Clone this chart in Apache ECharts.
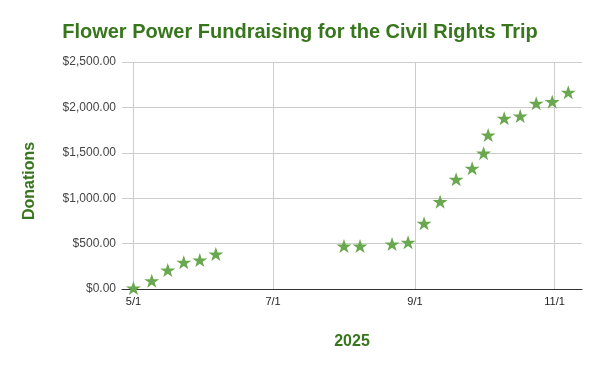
<!DOCTYPE html>
<html>
<head>
<meta charset="utf-8">
<script src="https://cdn.jsdelivr.net/npm/echarts@6/dist/echarts.min.js"></script>
<style>
html,body{margin:0;padding:0;background:#fff;}
#chart{width:600px;height:371px;}
</style>
</head>
<body>
<div id="chart"></div>
<script>
// Data
const dates = ['2025-05-01','2025-05-09','2025-05-16','2025-05-23','2025-05-30','2025-06-06',
  '2025-08-01','2025-08-08','2025-08-22','2025-08-29','2025-09-05','2025-09-12','2025-09-19',
  '2025-09-26','2025-10-01','2025-10-03','2025-10-10','2025-10-17','2025-10-24','2025-10-31','2025-11-07'];
const donations = [10, 91, 209, 294, 319, 385,
  473, 473, 496, 514, 723, 962, 1208,
  1329, 1496, 1696, 1880, 1905, 2045, 2063, 2166];
const xTickDates = ['2025-05-01','2025-07-01','2025-09-01','2025-11-01'];
const xMinDate = '2025-04-26';
const xMaxDate = '2025-11-13';
const yTicks = [0, 500, 1000, 1500, 2000, 2500];

function ts(s){ const p = s.split('-').map(Number); return new Date(p[0], p[1]-1, p[2]).getTime(); }
const starPath = 'path://M50 0 L61.8 35.1 L98.1 35.1 L68.8 56.7 L79.4 90.5 L50 69.1 L20.6 90.5 L31.2 56.7 L1.9 35.1 L38.2 35.1 Z';
const green = '#38761d';

const chart = echarts.init(document.getElementById('chart'), null, {renderer:'canvas'});
chart.setOption({
  animation:false,
  backgroundColor:'#fff',
  title:{
    text:'Flower Power Fundraising for the Civil Rights Trip',
    left:'center', top:17,
    textStyle:{fontFamily:'Liberation Sans, Arial', fontSize:20, fontWeight:'bold', color:green}
  },
  graphic:[{
    type:'text',
    rotation:Math.PI/2,
    x:30, y:181,
    style:{text:'Donations', fill:green, font:'bold 16px "Liberation Sans", Arial', align:'center', verticalAlign:'middle'}
  }],
  grid:{left:122, right:18, top:62, bottom:82, containLabel:false},
  xAxis:{
    type:'value',
    min:ts(xMinDate), max:ts(xMaxDate),
    name:'2025', nameLocation:'middle', nameGap:45,
    nameTextStyle:{fontFamily:'Liberation Sans, Arial', fontSize:16, fontWeight:'bold', color:green},
    axisLine:{show:true, onZero:false, lineStyle:{color:'#333', width:1}},
    axisTick:{show:false, customValues:xTickDates.map(ts)},
    axisLabel:{
      customValues:xTickDates.map(ts),
      color:'#222', fontFamily:'Liberation Sans, Arial', fontSize:11, margin:7,
      formatter:function(v){ const d = new Date(v); return (d.getMonth()+1)+'/'+d.getDate(); }
    },
    splitLine:{show:true, lineStyle:{color:'#cccccc', width:1}}
  },
  yAxis:{
    type:'value', min:yTicks[0], max:yTicks[yTicks.length-1], interval:500,
    axisLine:{show:false}, axisTick:{show:false},
    axisLabel:{
      color:'#444', fontFamily:'Liberation Sans, Arial', fontSize:12, margin:6,
      formatter:function(v){ return '$' + v.toLocaleString('en-US',{minimumFractionDigits:2, maximumFractionDigits:2}); }
    },
    splitLine:{show:true, lineStyle:{color:'#cccccc', width:1}}
  },
  series:[{
    type:'scatter',
    data:dates.map((d,i)=>[ts(d), donations[i]]),
    symbol:starPath,
    symbolSize:[15,14],
    symbolKeepAspect:false,
    itemStyle:{color:'#6aa84f', opacity:1},
    z:5
  }]
});
</script>
</body>
</html>
